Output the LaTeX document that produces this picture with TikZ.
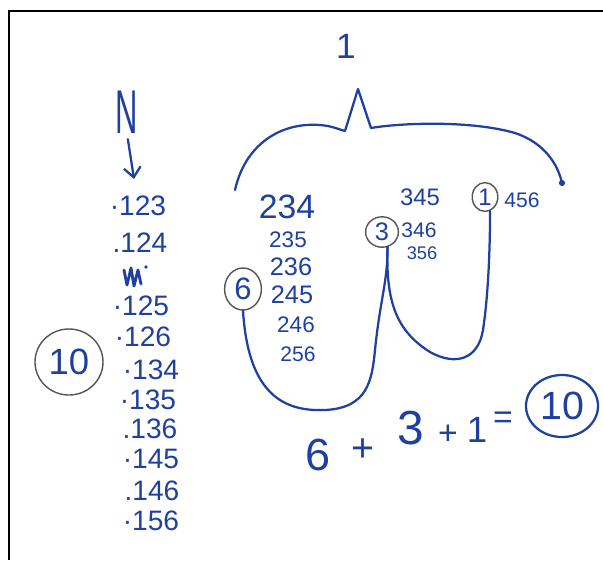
\documentclass[tikz,border=0pt]{standalone}
\usepackage{fontspec}
\setmainfont{Liberation Sans}
\usepackage{graphicx}
\usetikzlibrary{shapes.geometric,arrows.meta}

\definecolor{inkblue}{RGB}{30,64,160}
\definecolor{ringgray}{RGB}{85,85,85}

\tikzstyle{ink} = [draw=inkblue, line width=1.6pt, line cap=round, line join=round]
\tikzstyle{entry} = [inner sep=0pt, text=inkblue, font=\fontsize{20}{22}\selectfont]
\tikzstyle{sub entry} = [entry, font=\fontsize{16}{18}\selectfont]
\tikzstyle{ring} = [ellipse, draw=ringgray, line width=1pt, inner sep=0pt, text=inkblue]

\begin{document}
\begin{tikzpicture}[x=0.025cm, y=-0.025cm]
    \useasboundingbox (0,0) rectangle (603,560);
    % page frame
    \draw[line width=1.5pt] (603,11) -- (9,11) -- (9,560);

    % label and brace on top
    \node[entry, font=\fontsize{25}{27}\selectfont] (top) at (346,46) {1};
    \coordinate (tip) at (358,89);
    \draw[ink] (235,190) .. controls (245,145) and (280,122) .. (320,125)
        .. controls (333,126) and (340,130) .. (345,131) -- (tip) -- (371,128)
        .. controls (400,123) and (470,120) .. (515,133)
        .. controls (545,143) and (558,165) .. (562,183);
    \fill[inkblue] (562,183) circle (2.2pt);

    % N and its arrow
    \node[entry, font=\fontsize{44}{46}\selectfont] (nN) at (127,112) {\scalebox{0.5}[1]{N}};
    \coordinate (nTip) at (134,179);
    \draw[ink, -{Straight Barb[length=7pt,width=12pt]}, shorten <=4pt] (nN.south) -- (nTip);

    % left column
    \node[entry] (l123) at (138,206) {·123};
    \node[entry] (l124) at (140,243) {.124};
    \draw[ink, line width=2pt] (124,270) -- (127,285) -- (131,268) -- (134,286) -- (138,270) -- (141,284);
    \fill[inkblue] (146,267) circle (1.3pt);
    \node[entry] (l125) at (141,306) {·125};
    \node[entry] (l126) at (143,337) {·126};
    \node[entry] (l134) at (151,370) {·134};
    \node[entry] (l135) at (148,400) {·135};
    \node[entry] (l136) at (150,429) {.136};
    \node[entry] (l145) at (151,459) {·145};
    \node[entry] (l146) at (152,491) {.146};
    \node[entry] (l156) at (151,521) {·156};
    \node[ring, minimum width=1.7cm, minimum height=1.65cm, font=\fontsize{26}{28}\selectfont] (total) at (69,362) {10};

    % middle groups
    \node[entry, font=\fontsize{24}{26}\selectfont] (m234) at (287,207) {234};
    \node[sub entry] (m235) at (288,240) {235};
    \node[entry, font=\fontsize{18}{20}\selectfont] (m236) at (291,267) {236};
    \node[entry, font=\fontsize{18}{20}\selectfont] (m245) at (292,295) {245};
    \node[sub entry] (m246) at (296,325) {246};
    \node[sub entry, font=\fontsize{15}{17}\selectfont] (m256) at (298,354) {256};
    \node[sub entry, font=\fontsize{17}{19}\selectfont] (m345) at (420,197) {345};
    \node[sub entry, font=\fontsize{15}{17}\selectfont] (m346) at (419,230) {346};
    \node[sub entry, font=\fontsize{13}{15}\selectfont] (m356) at (422,253) {356};
    \node[sub entry, font=\fontsize{15}{17}\selectfont] (m456) at (522,200) {456};

    \node[ring, minimum width=0.92cm, minimum height=1.05cm, font=\fontsize{22}{24}\selectfont] (c6) at (243,289) {6};
    \node[ring, minimum width=0.82cm, minimum height=0.76cm, font=\fontsize{18}{20}\selectfont] (c3) at (382,232) {3};
    \node[ring, minimum width=0.64cm, minimum height=0.72cm, font=\fontsize{17}{19}\selectfont] (c1) at (485,197) {1};

    % loops
    \draw[ink] (c6.south) .. controls (248,390) and (280,412) .. (325,410)
        .. controls (368,408) and (372,380) .. (375,350)
        .. controls (380,300) and (388,280) .. (c3.-70);
    \draw[ink] (c3.-70) .. controls (386,300) and (395,330) .. (430,352)
        .. controls (455,366) and (478,360) .. (483,330)
        .. controls (489,290) and (490,240) .. (c1.-70);

    % sum
    \node[entry, font=\fontsize{32}{34}\selectfont] (e6) at (318,455) {6};
    \node[entry, font=\fontsize{28}{30}\selectfont] (ep1) at (363,450) {+};
    \node[entry, font=\fontsize{34}{36}\selectfont] (e3) at (411,428) {3};
    \node[entry, font=\fontsize{24}{26}\selectfont] (ep2) at (448,435) {+};
    \node[entry, font=\fontsize{26}{28}\selectfont] (e1) at (477,430) {1};
    \node[entry, font=\fontsize{24}{26}\selectfont] (eeq) at (503,420) {=};
    \node[ring, draw=inkblue, line width=1.6pt, minimum width=1.8cm, minimum height=1.55cm, font=\fontsize{28}{30}\selectfont] (sum) at (562,406) {10};
\end{tikzpicture}
\end{document}
